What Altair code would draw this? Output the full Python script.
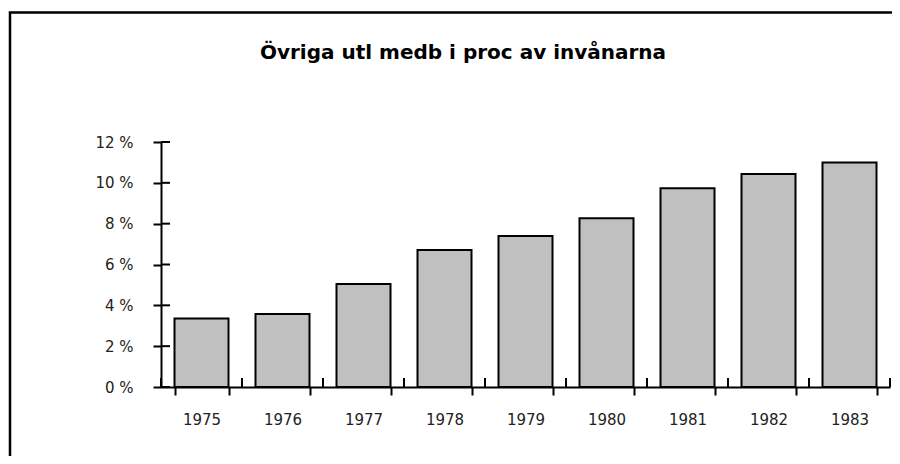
import altair as alt
import pandas as pd

years = ["1975", "1976", "1977", "1978", "1979", "1980", "1981", "1982", "1983"]
values = [3.36, 3.57, 5.04, 6.71, 7.40, 8.26, 9.73, 10.43, 11.0]
y_ticks = [0, 2, 4, 6, 8, 10, 12]
title_text = "Övriga utl medb i proc av invånarna"

df = pd.DataFrame({"year": years, "value": values})
ticks_df = pd.DataFrame({"t": y_ticks})
last_df = pd.DataFrame({"year": years[-1:]})
title_df = pd.DataFrame({"label": [title_text]})

W, H = 729, 245
STEP = W / len(years)
HALF_GAP = STEP / 6
LABEL_FONT = "DejaVu Sans"

xscale = alt.Scale(domain=years, paddingInner=1/3, paddingOuter=1/6)
yscale = alt.Scale(domain=[0, 12], nice=False)

bars = alt.Chart(df).mark_bar(fill="#c0c0c0", stroke="black", strokeWidth=2).encode(
    x=alt.X("year:O", scale=xscale, sort=years,
            axis=alt.Axis(title=None, labelAngle=0, tickBand="extent", tickSize=8,
                          tickWidth=2, domainWidth=2, domainColor="black", tickColor="black",
                          labelPadding=17, labelFontSize=15, labelFont=LABEL_FONT,
                          labelColor="#222")),
    y=alt.Y("value:Q", scale=yscale,
            axis=alt.Axis(title=None, values=y_ticks, labelExpr="datum.value + ' %'",
                          tickSize=8, tickWidth=2, domainWidth=2, domainColor="black",
                          tickColor="black", labelPadding=20, labelFontSize=15,
                          labelFont=LABEL_FONT, labelColor="#222", grid=False)),
)

ytick_in = alt.Chart(ticks_df).mark_rule(color="black", strokeWidth=2).encode(
    y=alt.Y("t:Q", scale=yscale),
    x=alt.value(0),
    x2=alt.value(9),
)

xtick_in = alt.Chart(df).mark_rule(color="black", strokeWidth=2, xOffset=-HALF_GAP).encode(
    x=alt.X("year:O", scale=xscale, sort=years, bandPosition=0),
    y=alt.value(H),
    y2=alt.value(H - 9),
)

xtick_end = alt.Chart(last_df).mark_rule(color="black", strokeWidth=2, xOffset=HALF_GAP).encode(
    x=alt.X("year:O", scale=xscale, sort=years, bandPosition=1),
    y=alt.value(H),
    y2=alt.value(H - 9),
)

frame = alt.Chart(ticks_df.head(1)).mark_rect(fillOpacity=0, stroke="black", strokeWidth=2.5).encode(
    x=alt.value(-151),
    x2=alt.value(W + 60),
    y=alt.value(-129.5),
    y2=alt.value(H + 150),
)

title = alt.Chart(title_df).mark_text(
    font="DejaVu Sans", fontSize=20, fontWeight="bold", color="black",
    align="center", baseline="middle",
).encode(
    text="label:N",
    x=alt.value(302),
    y=alt.value(-89),
)

chart = alt.layer(frame, bars, ytick_in, xtick_in, xtick_end, title).properties(
    width=W, height=H,
    autosize=alt.AutoSizeParams(type="none"),
    padding={"left": 153, "top": 134, "right": 2, "bottom": 69},
    background="white",
).configure_view(strokeWidth=0, stroke=None)

chart.save("out.html", embed_options={"renderer": "svg", "actions": False})
